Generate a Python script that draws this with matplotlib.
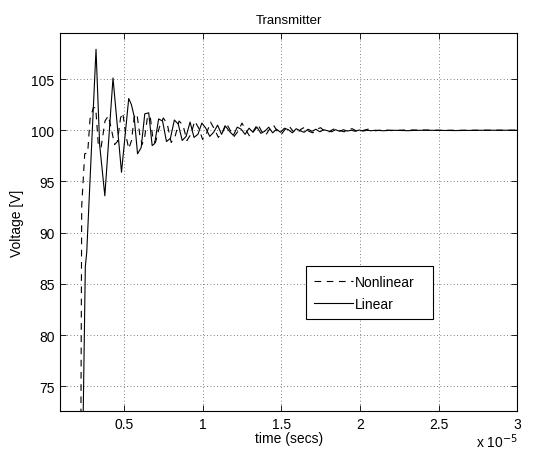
import numpy as np
import matplotlib
matplotlib.use("Agg")
import matplotlib.pyplot as plt

plt.rcParams['font.family'] = ['Liberation Sans', 'DejaVu Sans']
plt.rcParams['font.size'] = 10

# time in units of 1e-5 s, voltage in V
lin_t_start = [0.229, 0.254, 0.263, 0.322, 0.345, 0.378, 0.430, 0.484, 0.530, 0.547,
               0.564, 0.586, 0.609, 0.632, 0.657, 0.679, 0.695]
lin_v_start = [60.0, 86.7, 88.1, 107.9, 98.6, 93.6, 105.1, 95.9, 103.1, 102.5,
               101.4, 97.7, 98.3, 101.6, 101.7, 98.5, 98.7]

# sample times of the ringing tail (every 0.025)
lin_t_tail = list(np.round(np.linspace(0.720, 2.070, 55), 3)) + \
    [2.100, 2.150, 2.200, 2.300, 2.400, 2.600, 2.800, 3.000]
lin_v_tail = [101.1, 100.9, 98.9, 99.2, 101.0, 100.6, 99.0, 99.4, 100.8, 99.3,
              99.6, 100.7, 100.2, 99.4, 99.8, 100.5, 99.6, 100.4, 99.9, 99.5,
              100.3, 100.1, 99.6, 100.2, 99.8, 100.3, 99.7, 99.9, 100.3, 99.75,
              100.1, 99.8, 100.2, 100.05, 99.75, 100.15, 99.95, 99.8, 100.1, 99.9,
              100.1, 99.85, 100.05, 99.95, 99.85, 100.05, 99.9, 100.05, 99.92, 100.0,
              99.9, 100.02, 99.92, 100.0, 99.95,
              100.0, 99.95, 100.0, 99.96, 100.0, 99.97, 100.0, 100.0]

nl_t_start = [0.222, 0.228, 0.231, 0.250, 0.269, 0.284, 0.305, 0.320, 0.337, 0.354,
              0.379, 0.400, 0.417, 0.440, 0.458, 0.478, 0.492, 0.512, 0.530, 0.548,
              0.565, 0.582, 0.600, 0.615, 0.632, 0.650, 0.668, 0.685, 0.700]
nl_v_start = [55.0, 80.0, 92.6, 97.7, 97.8, 101.1, 102.2, 102.2, 98.5, 98.3,
              100.9, 101.4, 100.3, 98.6, 98.9, 101.2, 101.7, 99.5, 98.2, 99.0,
              101.3, 101.6, 99.6, 98.6, 99.4, 101.4, 101.2, 99.0, 98.8]

nl_t_tail = list(np.round(np.linspace(0.725, 2.000, 52), 3)) + \
    [2.050, 2.100, 2.150, 2.200, 2.300, 2.500, 3.000]
nl_v_tail = [100.3, 101.2, 100.6, 98.8, 99.4, 100.9, 100.5, 99.0, 99.6, 100.9,
             100.2, 99.1, 99.7, 100.8, 100.1, 99.3, 99.8, 100.7, 100.0, 99.4,
             99.9, 100.7, 100.0, 99.4, 100.0, 100.6, 99.9, 99.5, 100.1, 100.5,
             99.9, 99.6, 100.1, 100.4, 99.9, 99.7, 100.1, 100.3, 99.9, 99.75,
             100.1, 100.25, 99.9, 99.8, 100.05, 100.2, 99.95, 99.85, 100.05, 100.15,
             99.95, 99.9,
             100.1, 99.95, 100.05, 99.97, 100.03, 100.0, 100.0]

lin_t = lin_t_start + lin_t_tail
lin_v = lin_v_start + lin_v_tail
nl_t = nl_t_start + nl_t_tail
nl_v = nl_v_start + nl_v_tail

fig = plt.figure(figsize=(5.43, 4.52), dpi=100)
ax = fig.add_axes([0.1105, 0.0885, 0.842, 0.8365])

ax.plot(nl_t, nl_v, color='black', lw=0.8, linestyle=(0, (6, 5)), label='Nonlinear')
ax.plot(lin_t, lin_v, color='black', lw=0.8, label='Linear')

ax.set_xlim(0.093, 3.0)
ax.set_ylim(72.6, 109.5)
ax.set_xticks([0.5, 1, 1.5, 2, 2.5, 3])
ax.set_xticklabels(['0.5', '1', '1.5', '2', '2.5', '3'])
ax.set_yticks([75, 80, 85, 90, 95, 100, 105])

ax.grid(True, linestyle=(0, (1, 3)), color='#555555', lw=0.6)
ax.tick_params(direction='in', top=True, right=True, length=4, width=0.6,
               labelsize=10, pad=4)
for s in ax.spines.values():
    s.set_linewidth(0.8)

ax.set_title('Transmitter', fontsize=9.5, pad=7)
ax.set_xlabel('time (secs)', fontsize=10, labelpad=0)
ax.set_ylabel('Voltage [V]', fontsize=10, labelpad=5)
fig.text(0.953, 0.003, r'x 10$^{-5}$', ha='right', va='bottom', fontsize=10)

leg = ax.legend(loc='upper left', bbox_to_anchor=(0.538, 0.245, 0.277, 0.138),
                mode='expand', borderaxespad=0,
                fancybox=False, edgecolor='black', framealpha=1, fontsize=10,
                handlelength=2.75, handletextpad=0.15, borderpad=0.6, labelspacing=0.6)
leg.get_frame().set_linewidth(0.8)

fig.savefig('out.png', dpi=100)
